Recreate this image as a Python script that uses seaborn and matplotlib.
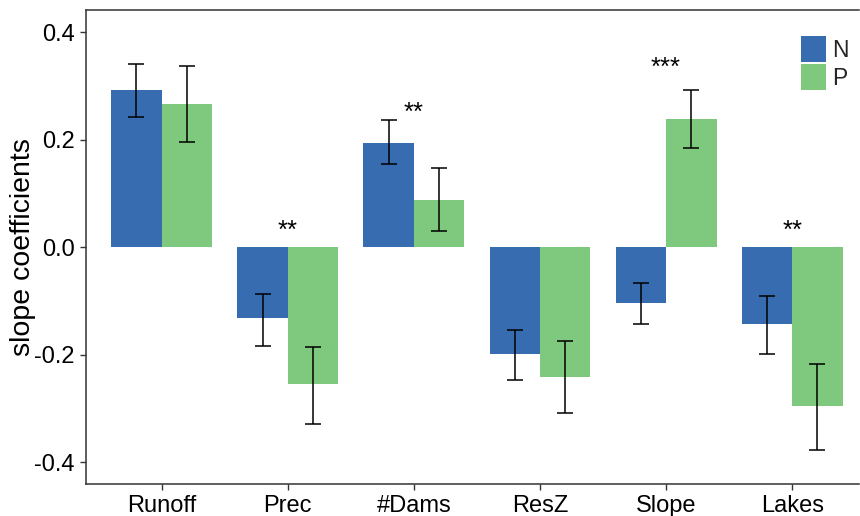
import matplotlib
matplotlib.use("Agg")
import matplotlib.pyplot as plt
from matplotlib.container import BarContainer
import seaborn as sns
import pandas as pd
import numpy as np

categories = ["Runoff", "Prec", "#Dams", "ResZ", "Slope", "Lakes"]
n_values = [0.293, -0.132, 0.193, -0.199, -0.104, -0.143]
p_values = [0.266, -0.254, 0.087, -0.241, 0.238, -0.295]
n_low = [0.243, -0.184, 0.154, -0.247, -0.143, -0.199]
n_high = [0.340, -0.087, 0.236, -0.154, -0.067, -0.091]
p_low = [0.195, -0.329, 0.030, -0.308, 0.184, -0.377]
p_high = [0.336, -0.186, 0.147, -0.175, 0.293, -0.217]
sig_labels = ["", "**", "**", "", "***", "**"]
sig_y = [None, 0.030, 0.250, None, 0.334, 0.030]
y_ticks = [-0.4, -0.2, 0.0, 0.2, 0.4]
y_tick_labels = ["-0.4", "-0.2", "0.0", "0.2", "0.4"]

sns.set_theme(style="white")
plt.rcParams["font.family"] = ["Liberation Sans", "DejaVu Sans"]

df = pd.DataFrame({
    "category": categories * 2,
    "value": n_values + p_values,
    "group": ["N"] * len(categories) + ["P"] * len(categories),
})

fig = plt.figure(figsize=(8.6, 5.16), dpi=100)
ax = fig.add_axes([86 / 860, 1 - 484 / 516, (859 - 86) / 860, (484 - 10) / 516])

sns.barplot(data=df, x="category", y="value", hue="group", order=categories,
            hue_order=["N", "P"], palette=["#386CB0", "#7FC97F"],
            width=0.8, saturation=1, errorbar=None, ax=ax, edgecolor="none",
            linewidth=0)

bar_conts = [c for c in ax.containers if isinstance(c, BarContainer)]
lows = [n_low, p_low]
highs = [n_high, p_high]
vals = [n_values, p_values]
for ci, cont in enumerate(bar_conts):
    xs = [b.get_x() + b.get_width() / 2 for b in cont.patches]
    v = np.array(vals[ci])
    lo = v - np.array(lows[ci])
    hi = np.array(highs[ci]) - v
    ax.errorbar(xs, v, yerr=[lo, hi], fmt="none", ecolor="black",
                elinewidth=1.1, capsize=5.5, capthick=1.1, zorder=5)

for i, (lab, yy) in enumerate(zip(sig_labels, sig_y)):
    if lab:
        ax.text(i, yy, lab, ha="center", va="center", fontsize=18.5,
                color="black")

ax.set_ylim(-0.44, 0.441)
ax.set_xlim(-0.6, 5.53)
ax.set_yticks(y_ticks)
ax.set_yticklabels(y_tick_labels)
ax.set_xlabel("")
ax.set_ylabel("slope coefficients", fontsize=20.5, color="black", labelpad=-1)
ax.tick_params(axis="both", labelsize=17, colors="#333333", length=4,
               width=1, direction="out", bottom=True, left=True, pad=4)
for lbl in ax.get_xticklabels() + ax.get_yticklabels():
    lbl.set_color("black")
for s in ["left", "top", "bottom"]:
    ax.spines[s].set_color("#333333")
    ax.spines[s].set_linewidth(1.1)
ax.spines["right"].set_visible(False)

leg = ax.legend(title=None, frameon=False, loc="upper right",
                bbox_to_anchor=(1.0 + 3 / 773, 0.98 - 3 / 474), fontsize=16.5,
                handlelength=1.1, handleheight=1.35, handletextpad=0.25,
                labelspacing=0.1, borderaxespad=0.2)

fig.savefig("out.png", dpi=100)
